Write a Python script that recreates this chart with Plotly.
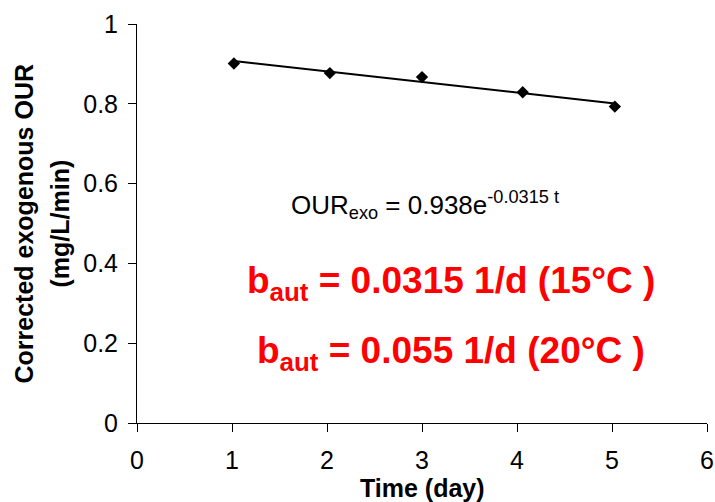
import plotly.graph_objects as go

# Data
time_day = [1.02, 2.03, 3.00, 4.06, 5.03]
our_exo = [0.901, 0.877, 0.867, 0.829, 0.793]

# Exponential trend line (OUR_exo = 0.938 e^(-0.0315 t)), values read at its ends
trend_x = [1.02, 5.03]
trend_y = [0.907, 0.801]

x_ticks = [0, 1, 2, 3, 4, 5, 6]
y_ticks = [0, 0.2, 0.4, 0.6, 0.8, 1]
y_tick_labels = ["0", "0.2", "0.4", "0.6", "0.8", "1"]

FONT = "Arial, Liberation Sans, sans-serif"

fig = go.Figure()
fig.add_trace(go.Scatter(
    x=trend_x, y=trend_y, mode="lines",
    line=dict(color="black", width=2), showlegend=False, hoverinfo="skip"))
fig.add_trace(go.Scatter(
    x=time_day, y=our_exo, mode="markers",
    marker=dict(symbol="diamond", size=9.5, color="black"),
    showlegend=False))

fig.update_layout(
    width=715, height=502,
    margin=dict(l=137, r=8, t=24, b=79),
    paper_bgcolor="white", plot_bgcolor="white",
    font=dict(family=FONT, size=25, color="black"),
    xaxis=dict(range=[0, 6], tickvals=x_ticks, showline=True, linecolor="black",
               linewidth=1, ticks="outside", ticklen=8, tickcolor="black",
               showgrid=False, zeroline=False, tickfont=dict(size=25),
               ticklabelstandoff=7, automargin=False),
    yaxis=dict(range=[0, 1], tickvals=y_ticks, ticktext=y_tick_labels, showline=True,
               linecolor="black", linewidth=1, ticks="outside", ticklen=8,
               tickcolor="black", showgrid=False, zeroline=False,
               tickfont=dict(size=25), ticklabelstandoff=5, automargin=False),
    annotations=[
        dict(text="<b>Corrected exogenous OUR</b>", textangle=-90, xref="paper", yref="paper",
             x=0, y=0.5, xanchor="center", yanchor="middle", xshift=-114,
             showarrow=False, font=dict(size=25)),
        dict(text="<b>(mg/L/min)</b>", textangle=-90, xref="paper", yref="paper",
             x=0, y=0.5, xanchor="center", yanchor="middle", xshift=-78,
             showarrow=False, font=dict(size=25)),
        dict(text="<b>Time (day)</b>", xref="paper", yref="paper",
             x=0.5, y=0, xanchor="center", yanchor="middle", yshift=-65,
             showarrow=False, font=dict(size=25)),
        dict(text="OUR<sub>exo</sub> = 0.938e<sup>-0.0315 t</sup>", xref="x", yref="y",
             x=3.03, y=0.546, showarrow=False, font=dict(size=26)),
        dict(text="<b>b<sub>aut</sub> = 0.0315 1/d (15°C )</b>", xref="x", yref="y",
             x=3.31, y=0.352, showarrow=False, font=dict(size=37, color="#FF0000")),
        dict(text="<b>b<sub>aut</sub> = 0.055 1/d (20°C )</b>", xref="x", yref="y",
             x=3.30, y=0.175, showarrow=False, font=dict(size=37, color="#FF0000")),
    ],
)

fig.write_html("out.html", config={"displayModeBar": False},
               post_script="document.body.style.margin='0';")
